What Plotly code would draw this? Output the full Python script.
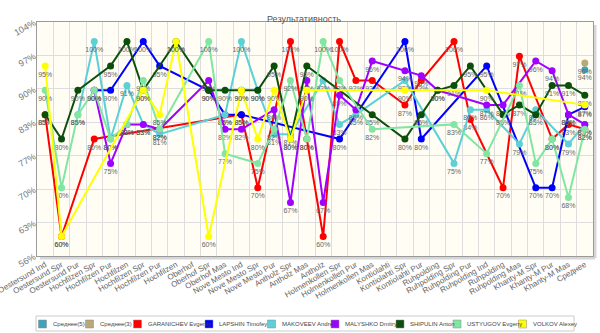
import plotly.graph_objects as go

categories = ["Oestersund Ind", "Oestersund Spr", "Oestersund Pur", "Hochfilzen Spr", "Hochfilzen Pur",
              "Hochfilzen", "Hochfilzen Spr", "Hochfilzen Pur", "Hochfilzen", "Oberhof", "Oberhof Spr",
              "Oberhof Mas", "Nove Mesto Ind", "Nove Mesto Spr", "Nove Mesto Pur", "Antholz Spr",
              "Antholz Mas", "Antholz", "Holmenkollen Spr", "Holmenkollen Pur", "Holmenkollen Mas",
              "Kontiolahti", "Kontiolahti Spr", "Kontiolahti Pur", "Ruhpolding", "Ruhpolding Spr",
              "Ruhpolding Pur", "Ruhpolding Ind", "Ruhpolding", "Ruhpolding Mas", "Khanty-M Spr",
              "Khanty-M Pur", "Khanty-M Mas", "Среднее"]

N = None
avg5 = [N]*33 + [94.2]
avg3 = [N]*33 + [95.6]
garanichev = [85, 60, N, 80, N, N, N, N, N, N, N, N, 85, 70, N, 100, 80, 60, 100, 92, 92, N, 87, 92, N, 100, 84, N, 70, 97, N, 80, 83, 82]
lapshin = [N, N, N, 90, 90, N, 100, 95, N, N, 90, 85, 85, N, N, N, N, N, 80, N, N, N, 100, 80, N, N, N, 95, N, N, 70, 70, 85, 86.6]
makoveev = [N, N, 85, 100, 80, 91, 83, 81, N, N, N, 85, 100, 90, 81, 81, N, 92, 83, 85, N, N, 92, N, N, 75, 86, 86, N, 79, 86, N, 79, 83]
malyshko = [N, N, N, 90, 75, 83, 83, 82, N, N, 92, 82, 82, N, 86, 67, 92, 67, 89, 86, 96, N, 94, 93, 90, N, N, 87, 87, N, 96, 94, 85, 83]
shipulin = [85, 80, 90, N, 95, 100, 90, N, 100, N, 90, 90, 90, 90, 95, 80, 95, N, N, N, 85, N, 80, 85, 90, 91, 95, N, 85, 87, 85, 91, 91, 89]
ustyugov = [90, 70, 85, 90, 80, 83, 92, 82, N, N, 100, 77, N, 75, 82, 92, 80, 100, 92, N, 82, N, N, N, N, 83, N, 77, N, 91, 75, 80, 68, 82]
volkov = [95, 60, N, N, N, N, 90, 85, 100, N, 60, N, 90, 80, 90, 80, 90, N, N, N, N, N, 90, N, N, N, N, 90, N, N, N, N, N, 87]

series = [
    ("Среднее(5)", avg5, "#3fa3b9"),
    ("Среднее(3)", avg3, "#b9a978"),
    ("GARANICHEV Evgeniy", garanichev, "#ff0000"),
    ("LAPSHIN Timofey", lapshin, "#0000ff"),
    ("MAKOVEEV Andrei", makoveev, "#5cd0d6"),
    ("MALYSHKO Dmitry", malyshko, "#a000ff"),
    ("SHIPULIN Anton", shipulin, "#0b4f0b"),
    ("USTYUGOV Evgeny", ustyugov, "#80e6a2"),
    ("VOLKOV Alexey", volkov, "#ffff00"),
]

W, H = 600, 333
L, R, T, B = 37, 593, 22, 256
FONT = "Liberation Sans"

def px(x):
    return (x - L) / (R - L)

def py(y):
    return (B - y) / (B - T)

xs = list(range(len(categories)))
fig = go.Figure()
for name, vals, col in series:
    fig.add_trace(go.Scatter(
        x=xs, y=vals, name=name, mode="lines+markers+text",
        connectgaps=True,
        line=dict(color=col, width=2),
        marker=dict(color=col, size=7),
        texttemplate="%{y:.0f}%", textposition="bottom center",
        textfont=dict(family=FONT, size=7, color="#666666"),
        cliponaxis=False, showlegend=False,
    ))

yt = [56 + k * 48 / 7 for k in range(8)]
fig.update_layout(
    width=W, height=H,
    margin=dict(l=L, r=W - R, t=T, b=H - B, autoexpand=False),
    paper_bgcolor="white", plot_bgcolor="#fffdf4",
    font=dict(family=FONT, color="#666666"),
    xaxis=dict(range=[-0.5, len(categories) - 0.5], tickvals=xs, ticktext=categories,
               tickangle=-30, tickfont=dict(size=8, color="#666666"), showgrid=False,
               ticklabeloverflow="allow", automargin=False,
               showline=True, linecolor="#9a9a9a", mirror=True, zeroline=False, ticks="",
               minor=dict(tickvals=[i - 0.5 for i in range(len(categories) + 1)], showgrid=True,
                          gridcolor="#dddddd", gridwidth=1)),
    yaxis=dict(range=[56, 104], tickvals=yt, ticktext=[f"{v:.0f}%" for v in yt],
               tickangle=-30, tickfont=dict(size=9, color="#777777"), showgrid=True,
               automargin=False,
               gridcolor="#dddddd", showline=True, linecolor="#9a9a9a", mirror=True,
               zeroline=False, ticks=""),
)

# frame shadow (right and bottom)
fig.add_shape(type="line", xref="paper", yref="paper", x0=px(R + 2), x1=px(R + 2), y0=py(T + 3), y1=py(B + 2),
              line=dict(color="#d6d6d6", width=3), layer="below")
fig.add_shape(type="line", xref="paper", yref="paper", x0=px(L + 3), x1=px(R + 2), y0=py(B + 2), y1=py(B + 2),
              line=dict(color="#d6d6d6", width=3), layer="below")

fig.add_annotation(text="Результативность", xref="paper", yref="paper", x=px(304), y=py(12),
                   showarrow=False, font=dict(size=9, color="#555555", family=FONT))

# legend box
fig.add_shape(type="rect", xref="paper", yref="paper", x0=px(36), x1=px(574), y0=py(316), y1=py(331),
              line=dict(color="#cccccc", width=1), fillcolor="white")
sq = [38.5, 85.5, 133.5, 205, 267.5, 331, 396, 453, 518.5]
for (name, vals, col), sx in zip(series, sq):
    fig.add_shape(type="rect", xref="paper", yref="paper", x0=px(sx), x1=px(sx + 8), y0=py(320), y1=py(328),
                  line=dict(color="#888888", width=0.5), fillcolor=col)
    fig.add_annotation(text=name, xref="paper", yref="paper", x=px(sx + 12), y=py(324), xanchor="left",
                       yanchor="middle", showarrow=False, font=dict(size=6, color="#444444", family=FONT))

fig.write_html("out.html")
